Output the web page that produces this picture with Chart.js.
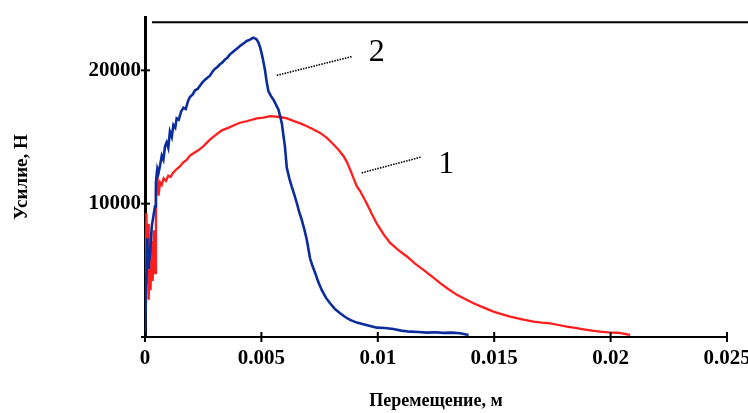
<!DOCTYPE html>
<html>
<head>
<meta charset="utf-8">
<script src="https://cdn.jsdelivr.net/npm/chart.js@4.4.0/dist/chart.umd.min.js"></script>
<style>
html, body { margin: 0; padding: 0; background: #fff; }
#wrap { width: 748px; height: 413px; overflow: hidden; position: relative; }
canvas { display: block; }
</style>
</head>
<body>
<div id="wrap"><canvas id="forceChart" width="800" height="413"></canvas></div>
<script>
// curve 1 (red)
const dispRed = [
  0.00002, 0.00006, 0.0001, 0.00013, 0.00016, 0.0002, 0.00024, 0.00028, 0.00033, 0.00038,
  0.00043, 0.00047, 0.00052, 0.00058, 0.00065, 0.00072, 0.0008, 0.0009, 0.001, 0.0011,
  0.0012, 0.00136, 0.0015, 0.00165, 0.0018, 0.00193, 0.0021, 0.00229, 0.0025, 0.00279,
  0.003, 0.0033, 0.0036, 0.00385, 0.00408, 0.0044, 0.0048, 0.0051, 0.00537, 0.0058,
  0.0061, 0.0064, 0.0067, 0.00695, 0.0072, 0.00752, 0.0078, 0.0081, 0.00833, 0.00853,
  0.00868, 0.00881, 0.00896, 0.0091, 0.00924, 0.00953, 0.00975, 0.00996, 0.01025, 0.01053,
  0.0109, 0.01125, 0.0116, 0.01196, 0.01232, 0.01268, 0.01304, 0.0134, 0.01375, 0.01411,
  0.01455, 0.01497, 0.01535, 0.01569, 0.0162, 0.01669, 0.01705, 0.01741, 0.01776, 0.01812,
  0.01848, 0.01884, 0.0192, 0.01956, 0.0199, 0.02027, 0.02055, 0.02084
];
const forceRed = [
  2500, 9300, 4000, 8500, 2800, 6500, 3500, 7200, 4200, 8000,
  4800, 11000, 12600, 10600, 11600, 11400, 11900, 11700, 12100, 12000,
  12300, 12600, 12800, 13100, 13300, 13600, 13800, 14000, 14300, 14800,
  15100, 15500, 15700, 15900, 16070, 16200, 16390, 16450, 16560, 16500,
  16400, 16190, 16000, 15810, 15600, 15310, 14950, 14440, 14000, 13560,
  13100, 12560, 11900, 11300, 10950, 10000, 9200, 8500, 7700, 7050,
  6500, 6040, 5500, 5040, 4550, 4040, 3580, 3160, 2850, 2530,
  2200, 1900, 1700, 1530, 1330, 1150, 1080, 1030, 900, 770,
  680, 580, 480, 400, 350, 320, 250, 150
];

// curve 2 (blue)
const dispBlue = [
  0, 0.0001, 0.00013, 0.00017, 0.00022, 0.00029, 0.00036, 0.00043, 0.00047, 0.00053,
  0.00058, 0.00065, 0.00072, 0.00079, 0.00086, 0.00093, 0.001, 0.00107, 0.00115, 0.00122,
  0.0013, 0.00136, 0.00145, 0.00155, 0.00165, 0.00175, 0.00185, 0.00193, 0.00205, 0.00215,
  0.00226, 0.00236, 0.00247, 0.00258, 0.00268, 0.00279, 0.0029, 0.003, 0.00311, 0.00322,
  0.00333, 0.00343, 0.00354, 0.00365, 0.00376, 0.00386, 0.00397, 0.00408, 0.00422, 0.00437,
  0.00451, 0.00465, 0.00478, 0.00487, 0.00495, 0.00502, 0.00509, 0.00516, 0.00523, 0.0053,
  0.0054, 0.00551, 0.00562, 0.00573, 0.0058, 0.00588, 0.00594, 0.00601, 0.00609, 0.0062,
  0.0063, 0.00641, 0.00652, 0.00662, 0.00673, 0.00684, 0.00695, 0.00709, 0.0072, 0.00731,
  0.00745, 0.00759, 0.00777, 0.00795, 0.00816, 0.00838, 0.0086, 0.00881, 0.0091, 0.00938,
  0.00967, 0.00996, 0.0103, 0.01067, 0.011, 0.01139, 0.01175, 0.01211, 0.01246, 0.01282,
  0.01318, 0.01354, 0.0139
];
const forceBlue = [
  0, 7400, 5200, 5600, 6300, 8300, 9050, 9800, 11600, 12600,
  12300, 12900, 13600, 13300, 14300, 14600, 14200, 15400, 15000, 15900,
  15700, 16400, 16300, 16900, 17200, 17100, 17700, 18000, 18200, 18500,
  18600, 18850, 19100, 19300, 19450, 19600, 19900, 20100, 20250, 20450,
  20600, 20800, 20950, 21200, 21350, 21500, 21650, 21830, 22000, 22200,
  22300, 22450, 22350, 22100, 21700, 21200, 20600, 19950, 19100, 18440,
  18100, 17820, 17450, 17070, 16600, 16000, 15200, 14300, 12700, 11900,
  11300, 10700, 10050, 9400, 8800, 8100, 7300, 5900, 5300, 4800,
  4100, 3530, 2950, 2530, 2100, 1780, 1500, 1280, 1080, 950,
  820, 700, 680, 600, 480, 400, 370, 330, 360, 310,
  330, 280, 150
];

const xTickVals = [0, 0.005, 0.01, 0.015, 0.02, 0.025];
const xTickLabels = ['0', '0.005', '0.01', '0.015', '0.02', '0.025'];
const yTickVals = [10000, 20000];
const yTickLabels = ['10000', '20000'];

const xTitle = 'Перемещение, м';
const yTitle = 'Усилие, Н';

// curve numbers with their leader lines, in data units
const curveNotes = [
  { text: '2', from: [0.00566, 19620], to: [0.00888, 21030], at: [0.00995, 21300] },
  { text: '1', from: [0.00931, 12310], to: [0.01189, 13510], at: [0.01294, 12950] }
];

const serif = '"Liberation Serif", "Times New Roman", serif';

function toPoints(xs, ys) {
  return xs.map((x, i) => ({ x: x, y: ys[i] }));
}

// tick marks crossing the axes, the top frame line and the curve numbers
const decorPlugin = {
  id: 'decor',
  afterDraw(chart) {
    const ctx = chart.ctx;
    const xs = chart.scales.x;
    const ys = chart.scales.y;
    const area = chart.chartArea;
    ctx.save();
    ctx.strokeStyle = '#000';

    // top frame line
    ctx.lineWidth = 2;
    const yTop = ys.getPixelForValue(23600);
    ctx.beginPath();
    ctx.moveTo(area.left + 7, yTop);
    ctx.lineTo(chart.width, yTop);
    ctx.stroke();

    // x ticks
    ctx.lineWidth = 2;
    xTickVals.forEach(v => {
      const px = xs.getPixelForValue(v);
      ctx.beginPath();
      ctx.moveTo(px, area.bottom - 5);
      ctx.lineTo(px, area.bottom + 5);
      ctx.stroke();
    });
    // y ticks
    [0].concat(yTickVals).forEach(v => {
      const py = ys.getPixelForValue(v);
      ctx.beginPath();
      ctx.moveTo(area.left - 4, py);
      ctx.lineTo(area.left + 5, py);
      ctx.stroke();
    });

    // curve numbers
    curveNotes.forEach(n => {
      ctx.setLineDash([1.5, 1.2]);
      ctx.lineWidth = 1.6;
      ctx.beginPath();
      ctx.moveTo(xs.getPixelForValue(n.from[0]), ys.getPixelForValue(n.from[1]));
      ctx.lineTo(xs.getPixelForValue(n.to[0]), ys.getPixelForValue(n.to[1]));
      ctx.stroke();
      ctx.setLineDash([]);
      ctx.fillStyle = '#000';
      ctx.font = '32px ' + serif;
      ctx.textAlign = 'center';
      ctx.textBaseline = 'middle';
      ctx.fillText(n.text, xs.getPixelForValue(n.at[0]), ys.getPixelForValue(n.at[1]));
    });
    ctx.restore();
  }
};

let ctx = document.getElementById('forceChart').getContext('2d');
new Chart(ctx, {
  type: 'scatter',
  data: {
    datasets: [{
      label: '2',
      data: toPoints(dispBlue, forceBlue),
      showLine: true,
      borderColor: '#0b2c9c',
      borderWidth: 2.6,
      pointRadius: 0,
      tension: 0
    },
    {
      label: '1',
      data: toPoints(dispRed, forceRed),
      showLine: true,
      borderColor: '#ff1e1e',
      borderWidth: 2.3,
      pointRadius: 0,
      tension: 0
    }]
  },
  options: {
    responsive: false,
    animation: false,
    layout: { padding: { top: 17, right: 73, left: 0, bottom: 0 } },
    plugins: {
      legend: { display: false },
      tooltip: { enabled: false }
    },
    scales: {
      x: {
        type: 'linear',
        min: 0,
        max: 0.025,
        afterBuildTicks: scale => { scale.ticks = xTickVals.map(v => ({ value: v })); },
        afterFit: scale => {
          scale.height = 76;
          scale.paddingLeft = 0;
          scale.paddingRight = 0;
        },
        grid: { display: false, drawTicks: false },
        border: { display: true, color: '#000', width: 2 },
        ticks: {
          autoSkip: false,
          maxRotation: 0,
          padding: 9,
          color: '#000',
          font: { family: serif, size: 21, weight: 'bold' },
          callback: (value, index) => xTickLabels[index]
        },
        title: {
          display: true,
          text: xTitle,
          color: '#000',
          font: { family: serif, size: 18, weight: 'bold' },
          padding: { top: 0, bottom: 1 }
        }
      },
      y: {
        min: 0,
        max: 24000,
        afterBuildTicks: scale => { scale.ticks = yTickVals.map(v => ({ value: v })); },
        afterFit: scale => {
          scale.width = 145;
          scale.paddingTop = 0;
          scale.paddingBottom = 0;
        },
        grid: { display: false, drawTicks: false },
        border: { display: true, color: '#000', width: 3 },
        ticks: {
          padding: 4,
          color: '#000',
          font: { family: serif, size: 21, weight: 'bold' },
          callback: (value, index) => yTickLabels[index]
        },
        title: {
          display: true,
          text: yTitle,
          color: '#000',
          font: { family: serif, size: 19, weight: 'bold' },
          padding: { top: 11, bottom: 0 }
        }
      }
    }
  },
  plugins: [decorPlugin]
});
</script>
</body>
</html>
